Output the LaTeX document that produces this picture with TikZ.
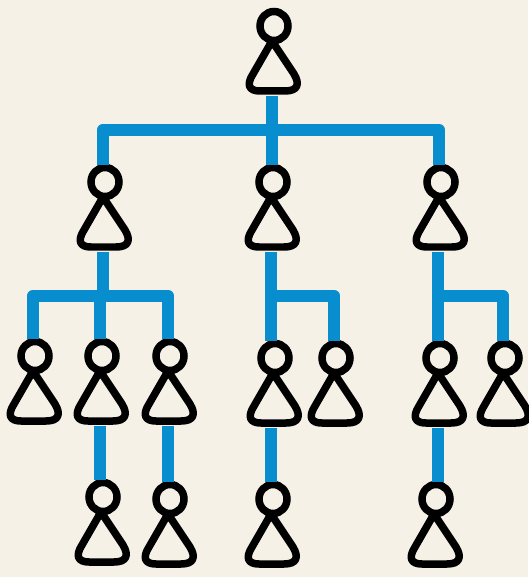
\documentclass[tikz,border=0pt]{standalone}
\definecolor{paper}{RGB}{246,241,231}
\definecolor{branchblue}{RGB}{8,142,207}
\tikzset{
	branch/.style={line width=2.5mm, color=branchblue, line join=round},
	person/.pic={
		\draw[line width=1.5mm] (0, 0) ellipse (14 and 14.5);
		\draw[line width=1.5mm, line join=round] (-2, 15) -- (-21, 48) .. controls (-28, 59) and (-25, 65) .. (-14, 65) -- (11, 65) .. controls (24, 65) and (26, 58) .. (20, 48) -- cycle;
		\coordinate (-top) at (-2, -17);
		\coordinate (-foot) at (-2, 70);
	}
}

\begin{document}
\begin{tikzpicture}[x=0.02cm, y=-0.02cm]
		%%%%% START %%%%%
		
		\fill[paper] (0, 0) rectangle (528, 577);
		\useasboundingbox (0, 0) rectangle (528, 577);
		
		\pic (root) at (274, 26) {person};
		
		\pic (left) at (105, 182) {person};
		\pic (mid) at (273, 182) {person};
		\pic (right) at (441, 182) {person};
		
		\pic (leftA) at (35, 356) {person};
		\pic (leftB) at (102, 356) {person};
		\pic (leftC) at (170, 356) {person};
		\pic (midA) at (275, 358) {person};
		\pic (midB) at (336, 358) {person};
		\pic (rightA) at (440, 358) {person};
		\pic (rightB) at (505, 358) {person};
		
		\pic (leftBkid) at (103, 497) {person};
		\pic (leftCkid) at (170, 499) {person};
		\pic (midAkid) at (273, 499) {person};
		\pic (rightAkid) at (436, 499) {person};
		
		\coordinate (busTop) at (272, 130);
		\draw[branch] (left-top) |- (busTop) -| (right-top);
		\draw[branch] (root-foot) -- (root-foot |- mid-top);
		
		\coordinate (busLeft) at (103, 296);
		\draw[branch] (leftA-top) |- (busLeft) -| (leftC-top);
		\draw[branch] (left-foot) -- (busLeft);
		\draw[branch] (leftB-top) -- (leftB-top |- busLeft);
		
		\draw[branch] (mid-foot) -- (mid-foot |- midA-top);
		\draw[branch] (midB-top) |- (mid-foot |- busLeft);
		
		\draw[branch] (rightA-foot |- right-foot) -- (rightA-top);
		\draw[branch] (rightB-top) |- (rightA-top |- busLeft);
		
		\draw[branch] (leftB-foot) -- (leftB-foot |- leftBkid-top);
		\draw[branch] (leftC-foot) -- (leftCkid-top);
		\draw[branch] (mid-foot |- midA-foot) -- (mid-foot |- midAkid-top);
		\draw[branch] (rightA-foot) -- (rightA-foot |- rightAkid-top);
		
		%%%%% END %%%%%
	\end{tikzpicture}
\end{document}
